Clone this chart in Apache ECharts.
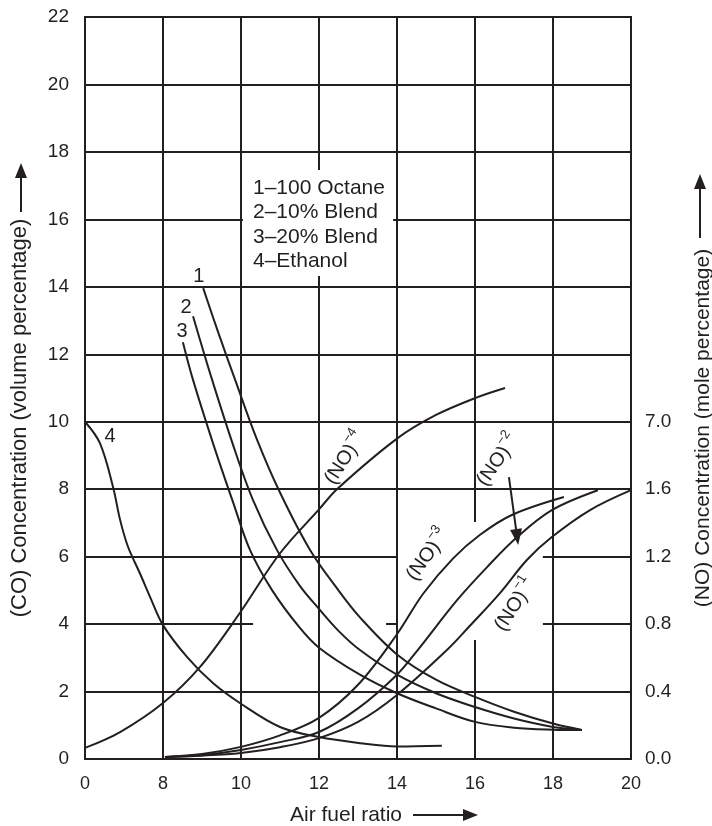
<!DOCTYPE html>
<html>
<head>
<meta charset="utf-8">
<title>CO and NO concentration vs air fuel ratio</title>
<script src="https://cdn.jsdelivr.net/npm/echarts@6/dist/echarts.min.js"></script>
<style>
  html, body { margin: 0; padding: 0; background: #fff; }
  #chart { width: 712px; height: 826px; }
</style>
</head>
<body>
<div id="chart"></div>
<script>
// Horizontal axis is broken: the first division (6..8 on the scale) stands for 0..8.
const xTickValues = [6, 8, 10, 12, 14, 16, 18, 20];
const xTickLabels = ['0', '8', '10', '12', '14', '16', '18', '20'];

// Right axis (NO, mole %) labels sit on the CO grid rows.
const noTickValues = [0, 2, 4, 6, 8, 10];
const noTickLabels = ['0.0', '0.4', '0.8', '1.2', '1.6', '7.0'];

// CO concentration curves [air fuel ratio (scale units), CO vol %]
const coOctane = [[9.03, 13.96], [9.4, 12.7], [9.85, 11.24], [10.4, 9.5], [11.0, 7.9], [11.77, 6.2], [12.5, 5.0], [13.05, 4.2], [14, 3.1], [15, 2.35], [16, 1.84], [17, 1.4], [18, 1.05], [18.74, 0.86]];
const coBlend10 = [[8.77, 13.13], [9.26, 11.24], [9.8, 9.3], [10.3, 7.7], [10.92, 6.2], [11.5, 5.15], [12, 4.45], [12.5, 3.8], [13.05, 3.23], [14, 2.5], [15, 1.95], [16, 1.54], [17, 1.2], [18, 0.95], [18.74, 0.86]];
const coBlend20 = [[8.51, 12.36], [8.77, 11.24], [9.3, 9.3], [9.8, 7.6], [10.23, 6.2], [10.8, 5.0], [11.5, 3.9], [12, 3.3], [13.05, 2.5], [14, 1.95], [15, 1.5], [16, 1.1], [17, 0.93], [18, 0.87], [18.74, 0.86]];
const coEthanol = [[6, 10], [6.38, 9.37], [6.72, 8.06], [6.9, 7.09], [7.1, 6.3], [7.41, 5.5], [7.67, 4.8], [8.0, 3.97], [8.62, 3.02], [9.28, 2.25], [9.97, 1.66], [11, 0.95], [12, 0.65], [13.05, 0.47], [14, 0.37], [15.15, 0.39]];

// NO concentration curves, plotted against the CO grid rows
const no4 = [[6, 0.33], [6.9, 0.8], [8, 1.66], [8.95, 2.73], [9.97, 4.33], [11, 6.1], [12, 7.4], [12.46, 8.0], [14, 9.5], [15, 10.2], [16, 10.7], [16.77, 11.0]];
const no3 = [[8.05, 0.06], [9, 0.15], [10, 0.36], [11, 0.7], [12, 1.22], [13, 2.2], [14, 3.7], [14.67, 4.9], [15.44, 5.95], [16.13, 6.65], [16.97, 7.25], [18.28, 7.77]];
const no2 = [[8.05, 0.06], [9, 0.12], [10, 0.27], [11, 0.5], [12, 0.8], [13, 1.5], [14, 2.5], [14.51, 3.2], [15.54, 4.71], [16.31, 5.69], [17.08, 6.58], [17.97, 7.38], [19.15, 7.97]];
const no1 = [[8.05, 0.06], [9, 0.1], [10, 0.18], [11, 0.35], [12, 0.62], [13, 1.1], [14, 1.9], [15.28, 3.23], [15.87, 3.95], [16.64, 4.92], [17.33, 5.9], [17.97, 6.58], [18.95, 7.38], [20, 7.97]];

// Grid rule segments: [x1, y1, x2, y2]; some are interrupted around text
const gridSegments = [
  [8, 0, 8, 22], [10, 0, 10, 22], [14, 0, 14, 22], [18, 0, 18, 22],
  [12, 0, 12, 14.32], [12, 17.46, 12, 22],
  [16, 0, 16, 3.53], [16, 7.03, 16, 22],
  [6, 2, 20, 2], [6, 8, 20, 8], [6, 10, 20, 10], [6, 12, 20, 12], [6, 14, 20, 14], [6, 18, 20, 18], [6, 20, 20, 20],
  [6, 16, 10.05, 16], [13.9, 16, 20, 16],
  [6, 6, 14, 6], [17.74, 6, 20, 6],
  [6, 4, 10.31, 4], [13.72, 4, 14, 4], [17.74, 4, 20, 4]
];

// Curve labels [x, y, text, rotation]
const curveLabels = [
  [8.92, 14.32, '1', 0], [8.59, 13.4, '2', 0], [8.49, 12.69, '3', 0], [6.64, 9.55, '4', 0]
];
const noLabels = [
  [12.67, 8.92, '{n|(NO)}{s|−4}', 57],
  [16.59, 8.86, '{n|(NO)}{s|−2}', 55],
  [14.79, 6.05, '{n|(NO)}{s|−3}', 54],
  [17.03, 4.57, '{n|(NO)}{s|−1}', 57]
];
// Pointer from the (NO)-2 label to its curve
const no2Pointer = [[16.87, 8.36], [17.08, 6.58]];

const legendLines = ['1–100 Octane', '2–10% Blend', '3–20% Blend', '4–Ethanol'];

const INK = '#231f20';
const FONT = '"Liberation Sans", Arial, Helvetica, sans-serif';

function curve(data) {
  return {
    type: 'line', data: data, smooth: 0.35, symbol: 'none',
    lineStyle: { color: INK, width: 2 }, silent: true, z: 5
  };
}

const chart = echarts.init(document.getElementById('chart'), null, { renderer: 'canvas' });

const option = {
  animation: false,
  backgroundColor: '#fff',
  grid: { left: 85, right: 81, top: 17, bottom: 67, show: true, borderColor: INK, borderWidth: 2, backgroundColor: 'transparent', z: 10 },
  xAxis: {
    type: 'value', min: 6, max: 20, interval: 2,
    axisLine: { show: false }, axisTick: { show: false }, splitLine: { show: false },
    axisLabel: {
      color: INK, fontFamily: FONT, fontSize: 18, margin: 16,
      formatter: v => { const i = xTickValues.indexOf(v); return i >= 0 ? xTickLabels[i] : ''; }
    }
  },
  yAxis: [
    {
      type: 'value', min: 0, max: 22, interval: 2,
      axisLine: { show: false }, axisTick: { show: false }, splitLine: { show: false },
      axisLabel: { color: INK, fontFamily: FONT, fontSize: 19, margin: 16 }
    },
    {
      type: 'value', min: 0, max: 22, interval: 2, position: 'right',
      axisLine: { show: false }, axisTick: { show: false }, splitLine: { show: false },
      axisLabel: {
        color: INK, fontFamily: FONT, fontSize: 19, margin: 14,
        formatter: v => { const i = noTickValues.indexOf(v); return i >= 0 ? noTickLabels[i] : ''; }
      }
    }
  ],
  series: [
    {
      type: 'line', data: [], silent: true,
      markLine: {
        silent: true, symbol: 'none', animation: false,
        lineStyle: { color: INK, width: 2, type: 'solid' },
        label: { show: false },
        data: gridSegments.map(s => [{ coord: [s[0], s[1]] }, { coord: [s[2], s[3]] }])
      }
    },
    curve(coOctane), curve(coBlend10), curve(coBlend20), curve(coEthanol),
    curve(no4), curve(no3), curve(no2), curve(no1),
    {
      type: 'line', data: [], silent: true,
      markLine: {
        silent: true, symbol: ['none', 'triangle'], symbolSize: [12, 16], animation: false,
        lineStyle: { color: INK, width: 2, type: 'solid' },
        itemStyle: { color: INK },
        label: { show: false },
        data: [[{ coord: no2Pointer[0] }, { coord: no2Pointer[1] }]]
      }
    },
    {
      type: 'scatter', symbolSize: 0, silent: true, z: 6,
      itemStyle: { opacity: 1 },
      data: curveLabels.map(l => ({ value: [l[0], l[1]], label: { formatter: l[2], rotate: l[3] } })),
      label: { show: true, position: 'inside', color: INK, opacity: 1, fontFamily: FONT, fontSize: 20 }
    },
    {
      type: 'scatter', symbolSize: 0, silent: true, z: 6,
      itemStyle: { opacity: 1 },
      data: noLabels.map(l => ({ value: [l[0], l[1]], label: { formatter: l[2], rotate: l[3] } })),
      label: {
        show: true, position: 'inside', color: INK, opacity: 1, fontFamily: FONT,
        rich: {
          n: { fontSize: 20, lineHeight: 30, color: INK, fontFamily: FONT },
          s: { fontSize: 13, lineHeight: 14, verticalAlign: 'top', color: INK, fontFamily: FONT }
        }
      }
    }
  ],
  graphic: [
    {
      type: 'text', left: 253, top: 176, z: 20,
      style: { text: legendLines.join('\n'), fill: INK, font: '21px ' + FONT, lineHeight: 24.3 }
    },
    // left axis title with upward arrow
    {
      type: 'text', x: 20, y: 418, rotation: Math.PI / 2, z: 20,
      style: { text: '(CO) Concentration (volume percentage)', fill: INK, font: '22px ' + FONT, align: 'center', verticalAlign: 'middle' }
    },
    { type: 'line', shape: { x1: 21, y1: 212, x2: 21, y2: 175 }, style: { stroke: INK, lineWidth: 2 } },
    { type: 'polygon', shape: { points: [[21, 163], [15, 178], [27, 178]] }, style: { fill: INK } },
    // right axis title with upward arrow
    {
      type: 'text', x: 703, y: 428, rotation: Math.PI / 2, z: 20,
      style: { text: '(NO) Concentration (mole percentage)', fill: INK, font: '21px ' + FONT, align: 'center', verticalAlign: 'middle' }
    },
    { type: 'line', shape: { x1: 700, y1: 238, x2: 700, y2: 185 }, style: { stroke: INK, lineWidth: 2 } },
    { type: 'polygon', shape: { points: [[700, 174], [694, 189], [706, 189]] }, style: { fill: INK } },
    // bottom axis title with arrow
    {
      type: 'text', x: 290, y: 815, z: 20,
      style: { text: 'Air fuel ratio', fill: INK, font: '21px ' + FONT, align: 'left', verticalAlign: 'middle' }
    },
    { type: 'line', shape: { x1: 413, y1: 815, x2: 464, y2: 815 }, style: { stroke: INK, lineWidth: 2 } },
    { type: 'polygon', shape: { points: [[478, 815], [463, 809], [463, 821]] }, style: { fill: INK } }
  ]
};

chart.setOption(option);
</script>
</body>
</html>
